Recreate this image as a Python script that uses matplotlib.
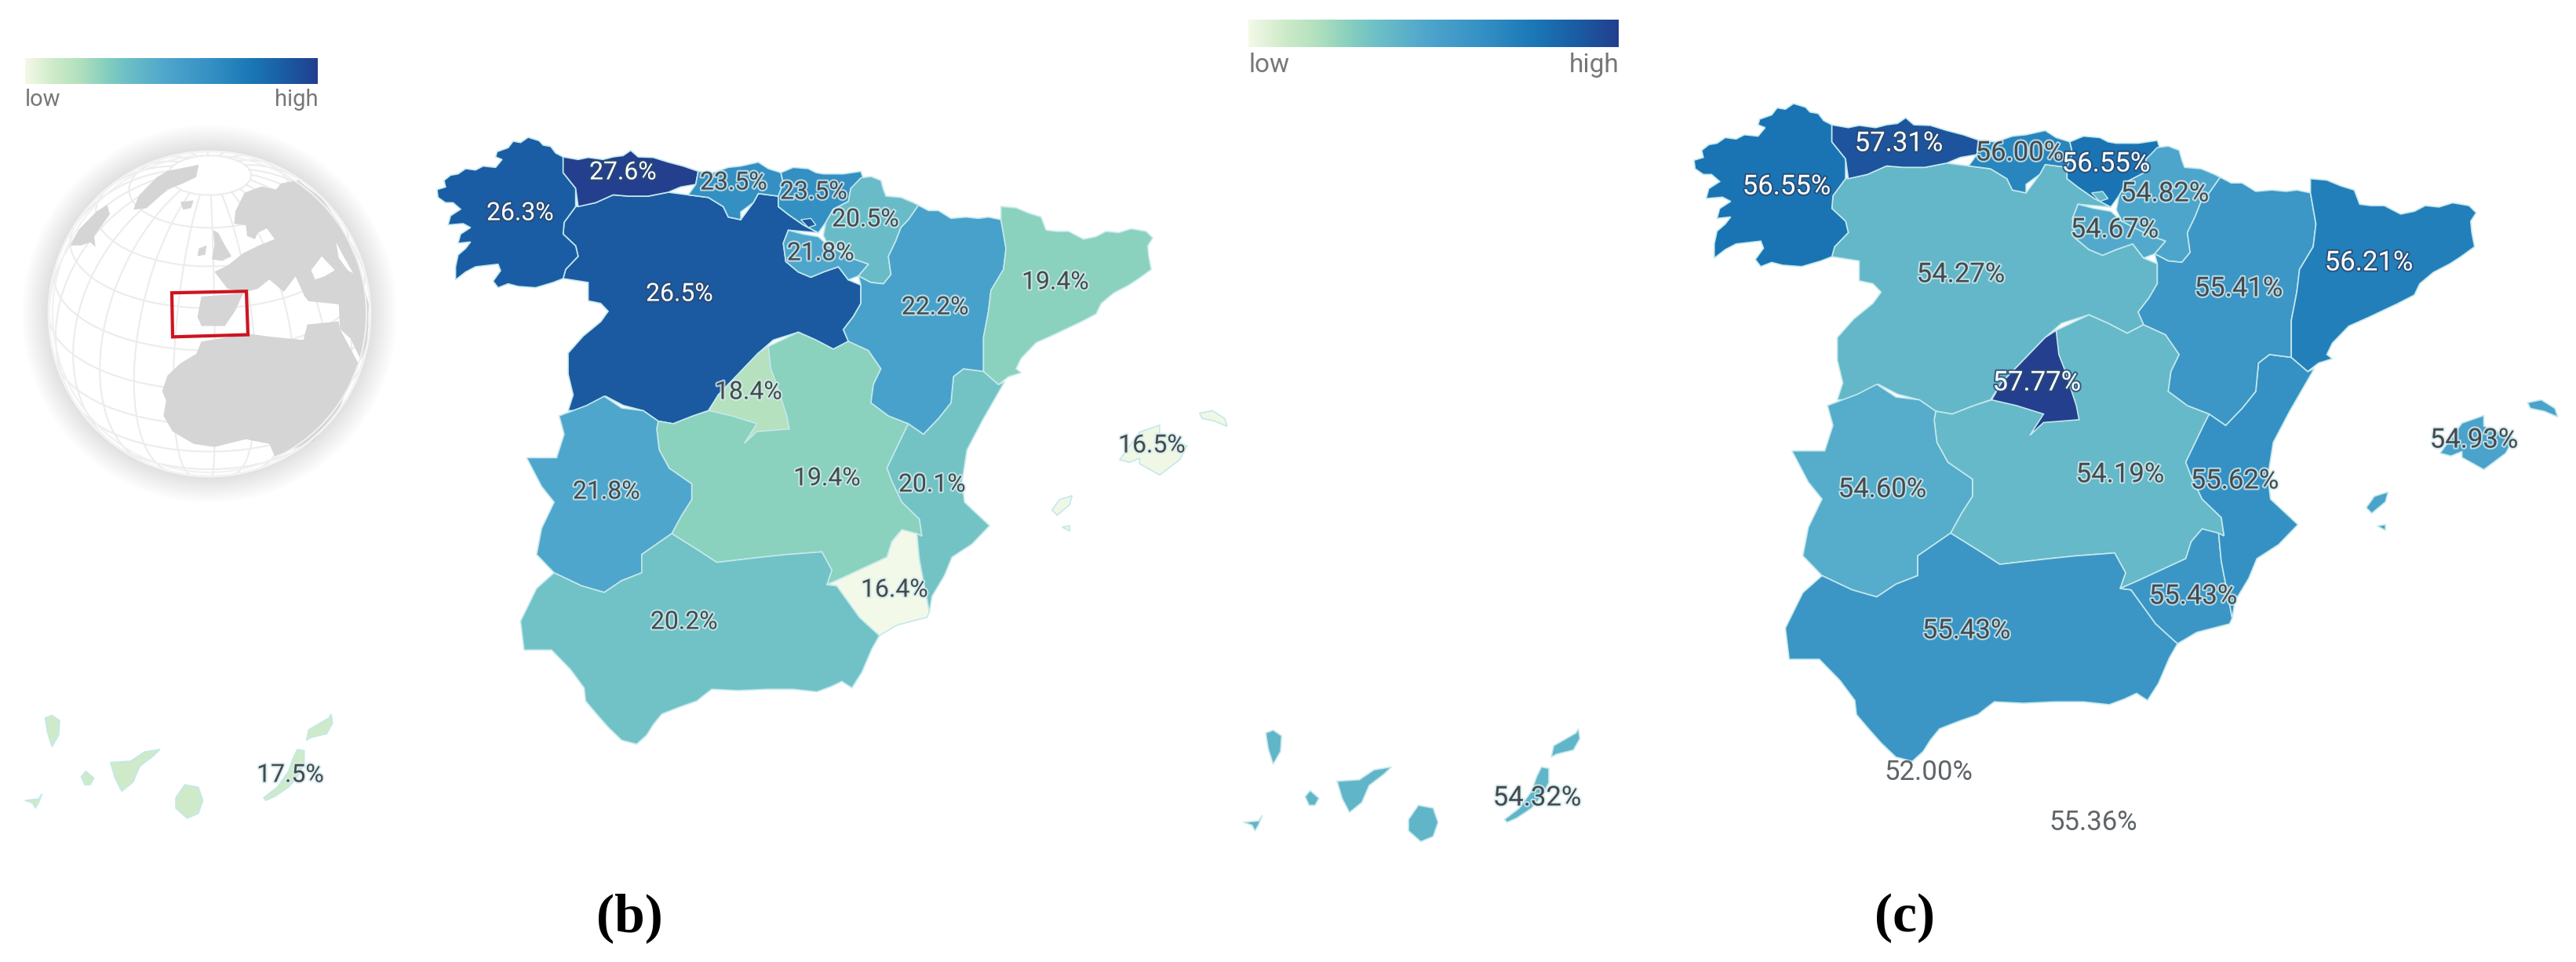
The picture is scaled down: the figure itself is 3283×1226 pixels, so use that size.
import numpy as np
import matplotlib
matplotlib.use('Agg')
import matplotlib.pyplot as plt
import matplotlib.patheffects as pe
from matplotlib.colors import LinearSegmentedColormap, Normalize
from matplotlib.patches import Polygon, Ellipse
from matplotlib.transforms import Affine2D

plt.rcParams['font.family'] = ['Roboto', 'DejaVu Sans']

# values per region, panel b and panel c
regions = ['Castilla y Leon', 'Galicia', 'Asturias', 'Cantabria', 'Pais Vasco', 'Navarra', 'La Rioja',
           'Castilla-La Mancha', 'Extremadura', 'Andalucia', 'Murcia', 'Valencia', 'Madrid', 'Aragon',
           'Cataluna', 'Baleares', 'Canarias']
values_b = [26.5, 26.3, 27.6, 23.5, 23.5, 20.5, 21.8, 19.4, 21.8, 20.2, 16.4, 20.1, 18.4, 22.2, 19.4, 16.5, 17.5]
values_c = [54.27, 56.55, 57.31, 56.00, 56.55, 54.82, 54.67, 54.19, 54.60, 55.43, 55.43, 55.62, 57.77, 55.41,
            56.21, 54.93, 54.32]
extra_c = [52.00, 55.36]
range_b = (16.4, 27.6)
range_c = (52.0, 57.77)

# label centres in image pixels
label_xy_b = [(866, 375), (663, 272), (794, 220), (935, 233), (1037, 245), (1103, 280), (1046, 323),
              (1054, 610), (773, 627), (872, 793), (1140, 752), (1188, 618), (954, 500), (1192, 392),
              (1345, 360), (1468, 568), (370, 988)]
label_xy_c = [(2499, 350), (2277, 238), (2420, 183), (2574, 195), (2684, 209), (2759, 247), (2695, 293),
              (2702, 605), (2399, 624), (2506, 804), (2795, 760), (2848, 613), (2596, 488), (2853, 368),
              (3019, 335), (3153, 561), (1959, 1017)]
extra_xy_c = [(2458, 984), (2668, 1048)]

# outlines
castilla_leon = [(335,280),(375,265),(410,235),(440,240),(480,240),(520,225),(560,235),(600,245),(630,280),
    (640,320),(665,330),(690,265),(700,230),(740,240),(740,280),(760,310),(790,350),(820,380),(760,370),(750,420),
    (755,490),(780,530),(805,550),(830,530),(860,510),(880,560),(905,580),(905,650),(890,700),(870,750),(880,795),
    (850,825),(815,790),(780,760),(730,790),(700,840),(660,920),(620,1000),(600,1060),(570,1080),(530,1110),
    (500,1100),(470,1060),(430,1040),(395,1005),(350,1060),(320,1060),(330,1000),(320,920),(320,840),(350,775),
    (385,720),(400,680),(385,650),(360,640),(360,570),(310,555),(315,520),(340,470),(335,430),(310,385),(312,340)]
galicia = [(310,90),(295,75),(285,50),(270,45),(262,28),(240,15),(225,35),(210,30),(200,55),(178,70),(175,90),(188,100),
    (175,130),(150,125),(135,140),(115,135),(100,155),(85,160),(72,180),(75,205),(58,215),(60,245),(75,265),(90,265),
    (105,290),(85,315),(80,350),(110,345),(125,360),(105,385),(100,420),(125,415),(115,440),(100,465),(95,510),(95,560),
    (115,530),(135,510),(180,500),(185,525),(170,565),(180,590),(200,575),(220,585),(255,590),(290,570),(310,555),
    (315,520),(340,470),(335,430),(310,385),(312,340),(335,280),(335,210),(310,150)]
asturias = [(310,90),(340,100),(360,92),(390,100),(410,90),(430,85),(445,65),(460,90),(490,92),(520,110),(550,125),
    (580,145),(575,195),(545,205),(520,225),(480,240),(440,240),(410,235),(375,265),(340,280),(335,210),(310,150)]
cantabria = [(580,145),(610,150),(640,130),(665,125),(700,110),(720,135),(745,150),(750,190),(740,240),(700,230),
    (690,265),(665,300),(665,330),(640,320),(630,280),(600,245),(560,235),(575,195)]
pais_vasco = [(745,150),(770,130),(800,135),(815,150),(830,155),(870,155),(905,145),(910,175),(885,210),(880,260),
    (850,290),(835,340),(820,380),(790,350),(760,310),(740,280),(740,240),(750,190)]
navarra = [(905,170),(925,165),(945,180),(950,215),(955,240),(985,245),(1010,265),(1020,275),(1000,330),(985,360),
    (975,410),(960,470),(965,540),(950,575),(925,570),(900,545),(920,500),(890,480),(840,430),(830,390),(835,340),
    (850,290),(880,260),(885,210)]
rioja = [(760,370),(790,385),(820,395),(840,430),(890,480),(920,500),(900,545),(880,560),(860,510),(830,530),
    (805,550),(780,530),(755,490),(750,420)]
la_mancha = [(720,815),(780,760),(815,790),(850,825),(880,795),(920,830),(945,900),(930,960),(925,1030),(960,1080),
    (1000,1110),(992,1140),(957,1280),(967,1330),(987,1410),(1022,1475),(1027,1540),(987,1515),(967,1560),(957,1620),
    (867,1700),(837,1725),(847,1670),(827,1600),(757,1610),(707,1620),(617,1640),(577,1590),(527,1530),(547,1460),
    (567,1400),(567,1340),(522,1280),(502,1210),(497,1130),(500,1100),(530,1110),(570,1080),(602,1060),(680,1000)]
extremadura = [(392,1005),(427,1050),(470,1060),(500,1100),(497,1130),(502,1210),(522,1280),(567,1340),(567,1400),
    (547,1460),(527,1530),(467,1610),(467,1680),(427,1710),(392,1755),(347,1730),(292,1680),(257,1610),(267,1510),
    (292,1410),(267,1350),(237,1240),(297,1240),(312,1150),(302,1080),(357,1040)]
andalucia = [(527,1530),(577,1590),(617,1640),(707,1620),(757,1610),(827,1600),(847,1670),(837,1725),(857,1730),
    (902,1850),(942,1920),(927,1970),(907,2060),(887,2120),(867,2095),(845,2115),(817,2135),(770,2125),(717,2125),
    (660,2130),(607,2125),(590,2150),(577,2170),(540,2195),(507,2220),(490,2260),(477,2300),(457,2335),(427,2320),
    (400,2270),(377,2220),(355,2170),(352,2120),(325,2050),(287,1975),(232,1975),(225,1865),(257,1740),(292,1680),
    (347,1730),(392,1755),(427,1710),(467,1680),(467,1610)]
murcia = [(987,1515),(1017,1530),(1022,1630),(1042,1830),(1037,1850),(977,1880),(942,1920),(902,1850),(857,1730),
    (837,1725),(867,1700),(957,1620),(967,1560)]
valencia = [(1090,930),(1110,900),(1150,910),(1180,960),(1192,950),(1147,1100),(1117,1210),(1107,1330),(1112,1410),
    (1162,1500),(1127,1570),(1087,1620),(1072,1690),(1047,1770),(1042,1830),(1022,1630),(1017,1530),(1027,1540),
    (1022,1475),(987,1410),(967,1330),(957,1280),(992,1140),(1000,1110),(1030,1150),(1060,1090),(1085,1030)]
madrid = [(720,815),(725,900),(735,950),(745,1010),(757,1080),(762,1130),(697,1140),(672,1185),(697,1110),(647,1080),
    (602,1060),(620,1000),(660,920),(700,840)]
aragon = [(1020,275),(1040,295),(1060,295),(1085,325),(1115,320),(1140,325),(1160,320),(1185,330),(1195,440),(1190,520),
    (1165,600),(1160,680),(1150,780),(1150,910),(1110,900),(1090,930),(1085,1030),(1060,1090),(1030,1150),(1000,1110),
    (960,1080),(925,1030),(930,960),(945,900),(920,830),(880,795),(870,750),(890,700),(905,650),(905,580),(900,545),
    (925,570),(950,575),(965,540),(960,470),(975,410),(985,360),(1000,330)]
cataluna = [(1185,280),(1215,285),(1240,305),(1265,320),(1275,370),(1295,375),(1320,375),(1350,405),(1375,395),
    (1395,375),(1420,380),(1445,365),(1475,375),(1488,400),(1478,430),(1480,470),(1485,520),(1460,555),(1440,580),
    (1410,610),(1385,650),(1375,690),(1345,720),(1290,770),(1255,800),(1240,830),(1225,860),(1215,900),(1225,915),
    (1200,930),(1180,960),(1150,910),(1150,780),(1160,680),(1165,600),(1190,520),(1195,440),(1185,330)]
mallorca = [(1502,1115),(1462,1142),(1422,1248),(1442,1258),(1462,1242),(1462,1263),(1502,1306),(1542,1248),
    (1557,1195),(1502,1152)]
menorca = [(1582,1070),(1607,1060),(1632,1090),(1637,1120),(1612,1100),(1587,1090)]
ibiza = [(1287,1440),(1302,1400),(1327,1385),(1322,1420),(1297,1460)]
formentera = [(1307,1505),(1322,1500),(1322,1520)]
trevino = [(785,330),(805,325),(815,350),(800,360)]

# canary islands, traced in their own crop
la_palma = [(100,165),(115,155),(132,175),(130,230),(115,275),(105,220)]
la_gomera = [(180,390),(190,368),(208,395),(200,420),(188,420)]
tenerife = [(245,335),(290,330),(320,295),(355,285),(340,310),(310,350),(295,410),(270,445),(255,395)]
el_hierro = [(55,480),(85,475),(93,455),(85,490),(78,510),(72,490)]
gran_canaria = [(410,420),(440,430),(450,480),(440,530),(415,548),(390,510),(390,470)]
fuerteventura = [(660,285),(675,290),(675,340),(660,390),(640,430),(610,465),(590,480),(585,470),(615,430),(640,370),(650,320)]
lanzarote = [(735,150),(738,185),(725,225),(690,240),(680,250),(685,210),(710,185),(730,165)]

greenland = [(510,575),(530,530),(600,470),(640,450),(760,430),(750,470),(700,490),(640,510),(560,570)]
labrador = [(270,690),(300,640),(370,580),(410,560),(420,590),(385,630),(360,660),(365,695),(345,680),(310,690)]
iceland = [(690,550),(740,545),(730,570),(700,575)]
britain = [(815,640),(835,650),(860,690),(885,725),(850,740),(810,735),(820,690)]
ireland = [(760,700),(790,690),(785,720),(755,725)]
eurasia = [(820,775),(870,755),(930,715),(990,690),(1050,670),(1020,635),(985,650),(975,670),(945,660),(940,625),
    (895,620),(900,580),(935,520),(1000,500),(1055,510),(1075,490),(1140,480),(1230,540),(1300,620),(1370,750),
    (1410,880),(1405,1000),(1380,1060),(1340,990),(1300,960),(1295,880),(1180,870),(1165,855),(1130,790),(1085,840),
    (1030,800),(985,830),(940,840),(870,830)]
iberia = [(770,855),(930,845),(900,900),(860,950),(770,950),(755,920)]
africa = [(620,1160),(640,1110),(690,1070),(750,1040),(770,1000),(950,975),(1040,985),(1160,995),(1175,945),(1295,935),
    (1300,960),(1370,1070),(1300,1210),(1200,1320),(1050,1370),(1030,1330),(940,1315),(820,1340),(740,1330),(660,1290),
    (625,1240),(635,1190)]
black_sea = [(1190,770),(1230,725),(1280,770),(1240,790),(1205,800)]
caspian = [(1285,680),(1310,720),(1350,780),(1330,770),(1295,730)]
red_box = [(657,843),(942,838),(948,978),(660,985)]

gnbu = LinearSegmentedColormap.from_list('gnbu', [
    (0.0, '#f3f9e8'), (0.1, '#cdeac8'), (0.18, '#b4e1bf'), (0.27, '#88d0be'), (0.34, '#6fc1c6'),
    (0.48, '#4fa6cc'), (0.63, '#3591c4'), (0.78, '#1a76b5'), (0.89, '#1a5ca3'), (1.0, '#233f8e')])

fig = plt.figure(figsize=(32.83, 12.26), dpi=100)
ax = fig.add_axes([0, 0, 1, 1])
ax.axis('off')

trace_to_b = Affine2D().scale(1 / 1.568, 1 / 3).translate(520, 170)
b_to_c = Affine2D().translate(-557, -175).scale(1.093, 1.084).translate(2159, 132)
canary_to_trace = Affine2D().scale(0.9, 1).translate(-815, 2070)

region_shapes = [[castilla_leon], [galicia], [asturias], [cantabria], [pais_vasco], [navarra], [rioja], [la_mancha],
                 [extremadura], [andalucia], [murcia], [valencia], [madrid], [aragon], [cataluna],
                 [mallorca, menorca, ibiza, formentera],
                 [canary_to_trace.transform(np.array(p)) for p in
                  [la_palma, la_gomera, tenerife, el_hierro, gran_canaria, fuerteventura, lanzarote]]]


def draw_label(s, x, y, size, dark):
    color = 'white' if dark else '#454a4e'
    halo = '#2b4a70' if dark else '#d5ecee'
    ax.text(x, y, s, fontsize=size, color=color, ha='center', va='center', zorder=10,
            path_effects=[pe.withStroke(linewidth=3, foreground=halo, alpha=0.8)])


def draw_map(values, vrange, to_pixels, label_xy, fmt, size, dark_from):
    norm = Normalize(*vrange)
    for shapes, v in zip(region_shapes, values):
        for pts in shapes:
            xy = to_pixels.transform(np.array(pts, dtype=float))
            ax.add_patch(Polygon(xy, closed=True, facecolor=gnbu(norm(v)), edgecolor='#c4e8ec', linewidth=1.2))
    xy = to_pixels.transform(np.array(trevino, dtype=float))
    ax.add_patch(Polygon(xy, closed=True, facecolor=gnbu(norm(values[0])), edgecolor='#c4e8ec', linewidth=1.0))
    for v, (x, y) in zip(values, label_xy):
        draw_label(fmt.format(v), x, y, size, v >= dark_from)


def draw_colorbar(x0, x1, y0, y1, low_y, size):
    grad = np.linspace(0, 1, 256).reshape(1, -1)
    ax.imshow(grad, cmap=gnbu, extent=(x0, x1, y1, y0), aspect='auto', zorder=2)
    ax.text(x0, low_y, 'low', fontsize=size, color='#777777', ha='left', va='center')
    ax.text(x1, low_y, 'high', fontsize=size, color='#777777', ha='right', va='center')


def draw_graticule(lon, lat, lat0, lon0, cx, cy, rx, ry):
    cosc = np.sin(lat0) * np.sin(lat) + np.cos(lat0) * np.cos(lat) * np.cos(lon - lon0)
    x = np.cos(lat) * np.sin(lon - lon0)
    y = np.cos(lat0) * np.sin(lat) - np.sin(lat0) * np.cos(lat) * np.cos(lon - lon0)
    x = np.where(cosc > 0, x, np.nan)
    ax.plot(cx + rx * x, cy - ry * y, color='#ececec', linewidth=1.5, zorder=3)


def draw_globe():
    cx, cy, rx, ry = 267, 400, 205, 207
    # soft shadow round the disc
    for i in range(16):
        ax.add_patch(Ellipse((cx, cy), 2 * (rx + 34 - i * 2.2), 2 * (ry + 34 - i * 2.2),
                             facecolor='#8a8a8a', edgecolor='none', alpha=0.012, zorder=1))
    disc = Ellipse((cx, cy), 2 * rx, 2 * ry, facecolor='white', edgecolor='none', zorder=2)
    ax.add_patch(disc)
    inset = Affine2D().scale(1 / 3, 1 / 2.53).translate(0, 40)

    # graticule of an orthographic globe, 15 degree steps
    lat0 = np.radians(28)
    lon0 = np.radians(-2)
    for lon in np.radians(np.arange(-180, 180, 15)):
        lat = np.radians(np.linspace(-75, 75, 80))
        draw_graticule(np.full_like(lat, lon), lat, lat0, lon0, cx, cy, rx, ry)
    for lat in np.radians(np.arange(-60, 90, 15)):
        lon = np.radians(np.linspace(-180, 180, 180))
        draw_graticule(lon, np.full_like(lon, lat), lat0, lon0, cx, cy, rx, ry)

    for pts in [greenland, labrador, iceland, britain, ireland, eurasia, iberia, africa]:
        ax.add_patch(Polygon(inset.transform(np.array(pts, dtype=float)), closed=True,
                             facecolor='#d5d5d5', edgecolor='none', zorder=4))
    for pts in [black_sea, caspian]:
        ax.add_patch(Polygon(inset.transform(np.array(pts, dtype=float)), closed=True,
                             facecolor='white', edgecolor='none', zorder=4))
    ax.add_patch(Ellipse((cx, cy), 2 * rx - 10, 2 * ry - 10, facecolor='none', edgecolor='#f1f1f1', linewidth=1.5, zorder=5))
    ax.add_patch(Ellipse((cx, cy), 2 * rx, 2 * ry, facecolor='none', edgecolor='#f3f3f3', linewidth=2, zorder=5))
    ax.add_patch(Polygon(inset.transform(np.array(red_box, dtype=float)), closed=True,
                         facecolor='none', edgecolor='#cc1520', linewidth=3, zorder=6))


draw_colorbar(32, 405, 74, 107, 127, 21)
draw_globe()
draw_map(values_b, range_b, trace_to_b, label_xy_b, '{:.1f}%', 23, 26)

draw_colorbar(1591, 2063, 25, 60, 83, 24)
draw_map(values_c, range_c, trace_to_b + b_to_c, label_xy_c, '{:.2f}%', 25, 56.2)
for v, (x, y) in zip(extra_c, extra_xy_c):
    ax.text(x, y, f'{v:.2f}%', fontsize=25, color='#5f6468', ha='center', va='center', zorder=10)

ax.text(802, 1170, '(b)', fontsize=50, family='Liberation Serif', fontweight='bold', ha='center', va='center')
ax.text(2428, 1170, '(c)', fontsize=50, family='Liberation Serif', fontweight='bold', ha='center', va='center')

ax.set_xlim(0, 3283)
ax.set_ylim(1226, 0)
fig.savefig('out.png', dpi=100, facecolor='white')
